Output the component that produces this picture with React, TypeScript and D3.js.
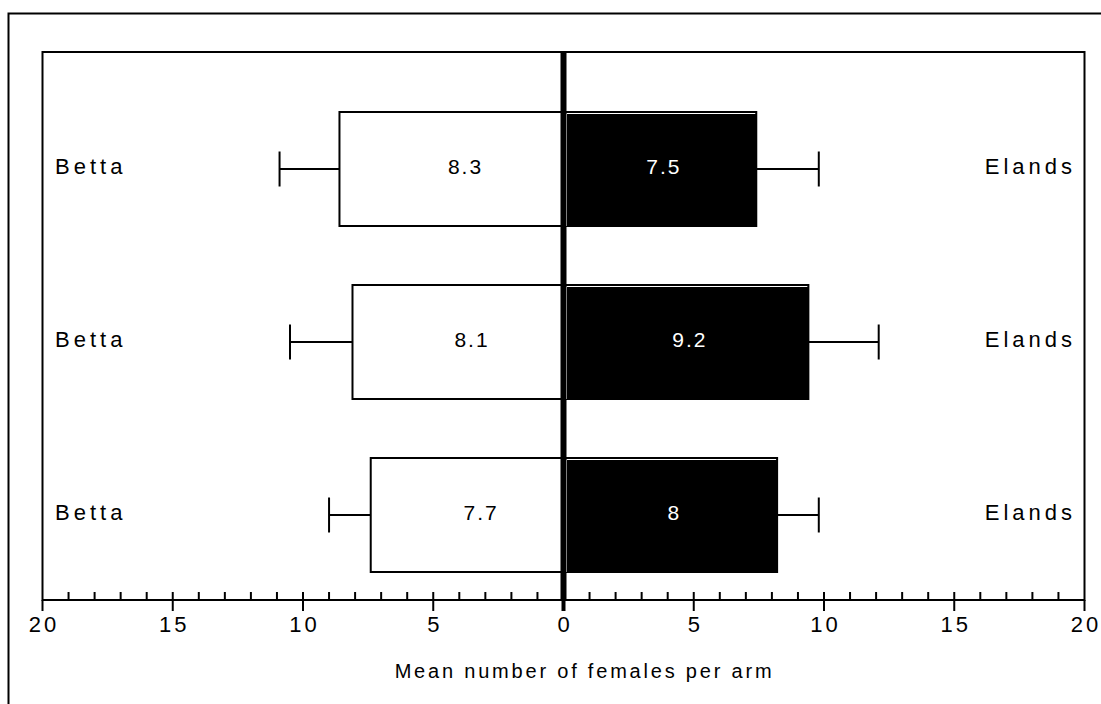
import React from 'react';
import * as d3 from 'd3';

// rows top to bottom
const leftLabels = ['Betta', 'Betta', 'Betta'];
const rightLabels = ['Elands', 'Elands', 'Elands'];
const bettaMeans = [8.6, 8.1, 7.4];
const bettaErr = [2.3, 2.4, 1.6];
const bettaText = ['8.3', '8.1', '7.7'];
const elandsMeans = [7.4, 9.4, 8.2];
const elandsErr = [2.4, 2.7, 1.6];
const elandsText = ['7.5', '9.2', '8'];
const majorTicks = [-20, -15, -10, -5, 0, 5, 10, 15, 20];
const axisTitle = 'Mean number of females per arm';

const W = 1101;
const H = 704;
const font = '"Liberation Sans", Arial, sans-serif';

const App: React.FC = () => {
  const plot = { left: 42.5, right: 1084.5, top: 52, bottom: 600 };
  const x = d3.scaleLinear().domain([-20, 20]).range([plot.left, plot.right]);
  const y = d3.scaleLinear().domain([0, 2]).range([169, 515]);
  const barH = 114;
  const capH = 35;
  const minorTicks = d3.range(-19, 20).filter(v => v % 5 !== 0);

  return (
    <div style={{ position: 'absolute', left: 0, top: 0 }}>
      <svg width={W} height={H} style={{ display: 'block', background: '#fff' }} fontFamily={font}>
        {/* outer frame */}
        <path d={`M8.5,${H + 5} V13.5 H${W + 5}`} fill="none" stroke="#000" strokeWidth={2} />
        {/* plot box */}
        <rect x={plot.left} y={plot.top} width={plot.right - plot.left} height={plot.bottom - plot.top}
          fill="none" stroke="#000" strokeWidth={2} />

        {leftLabels.map((lab, i) => {
          const cy = y(i);
          const top = cy - barH / 2;
          const x0 = x(0);
          const bl = x(-bettaMeans[i]);
          const er = x(elandsMeans[i]);
          const be = x(-(bettaMeans[i] + bettaErr[i]));
          const ee = x(elandsMeans[i] + elandsErr[i]);
          return (
            <g key={i}>
              {/* error bars */}
              <line x1={be} x2={bl} y1={cy} y2={cy} stroke="#000" strokeWidth={2} />
              <line x1={be} x2={be} y1={cy - capH / 2} y2={cy + capH / 2} stroke="#000" strokeWidth={2} />
              <line x1={er} x2={ee} y1={cy} y2={cy} stroke="#000" strokeWidth={2} />
              <line x1={ee} x2={ee} y1={cy - capH / 2} y2={cy + capH / 2} stroke="#000" strokeWidth={2} />
              {/* Betta bar */}
              <rect x={bl} y={top} width={x0 - bl} height={barH} fill="#fff" stroke="#000" strokeWidth={2} />
              {/* Elands bar */}
              <rect x={x0} y={top} width={er - x0} height={barH} fill="#000" stroke="#000" strokeWidth={2} />
              <path d={`M${x0 + 3},${top + barH} V${top + 1.5} H${er - 1}`} fill="none" stroke="#fff" strokeWidth={1} />
              {/* values */}
              <text x={(bl + x0) / 2 + 14} y={cy + 5} textAnchor="middle" fontSize={21} letterSpacing={2}>{bettaText[i]}</text>
              <text x={(x0 + er) / 2 + 4} y={cy + 5} textAnchor="middle" fontSize={21} letterSpacing={2} fill="#fff">{elandsText[i]}</text>
              {/* side labels */}
              <text x={55} y={cy + 5} fontSize={22} letterSpacing={4}>{lab}</text>
              <text x={1076} y={cy + 5} textAnchor="end" fontSize={22} letterSpacing={4}>{rightLabels[i]}</text>
            </g>
          );
        })}

        {/* zero line */}
        <line x1={x(0)} x2={x(0)} y1={plot.top} y2={plot.bottom} stroke="#000" strokeWidth={6} />

        {/* axis ticks */}
        {minorTicks.map(v => (
          <line key={v} x1={x(v)} x2={x(v)} y1={plot.bottom} y2={plot.bottom - 8} stroke="#000" strokeWidth={2} />
        ))}
        {majorTicks.map(v => (
          <g key={v}>
            <line x1={x(v)} x2={x(v)} y1={Math.abs(v) === 20 ? plot.bottom : plot.bottom - 8} y2={plot.bottom + 11}
              stroke="#000" strokeWidth={v === 0 ? 4 : 2} />
            <text x={x(v) + 1.5} y={632} textAnchor="middle" fontSize={22} letterSpacing={3}>{Math.abs(v)}</text>
          </g>
        ))}

        <text x={x(0) + 21} y={678} textAnchor="middle" fontSize={20} letterSpacing={2.8}>{axisTitle}</text>
      </svg>
    </div>
  );
};

export default App;
